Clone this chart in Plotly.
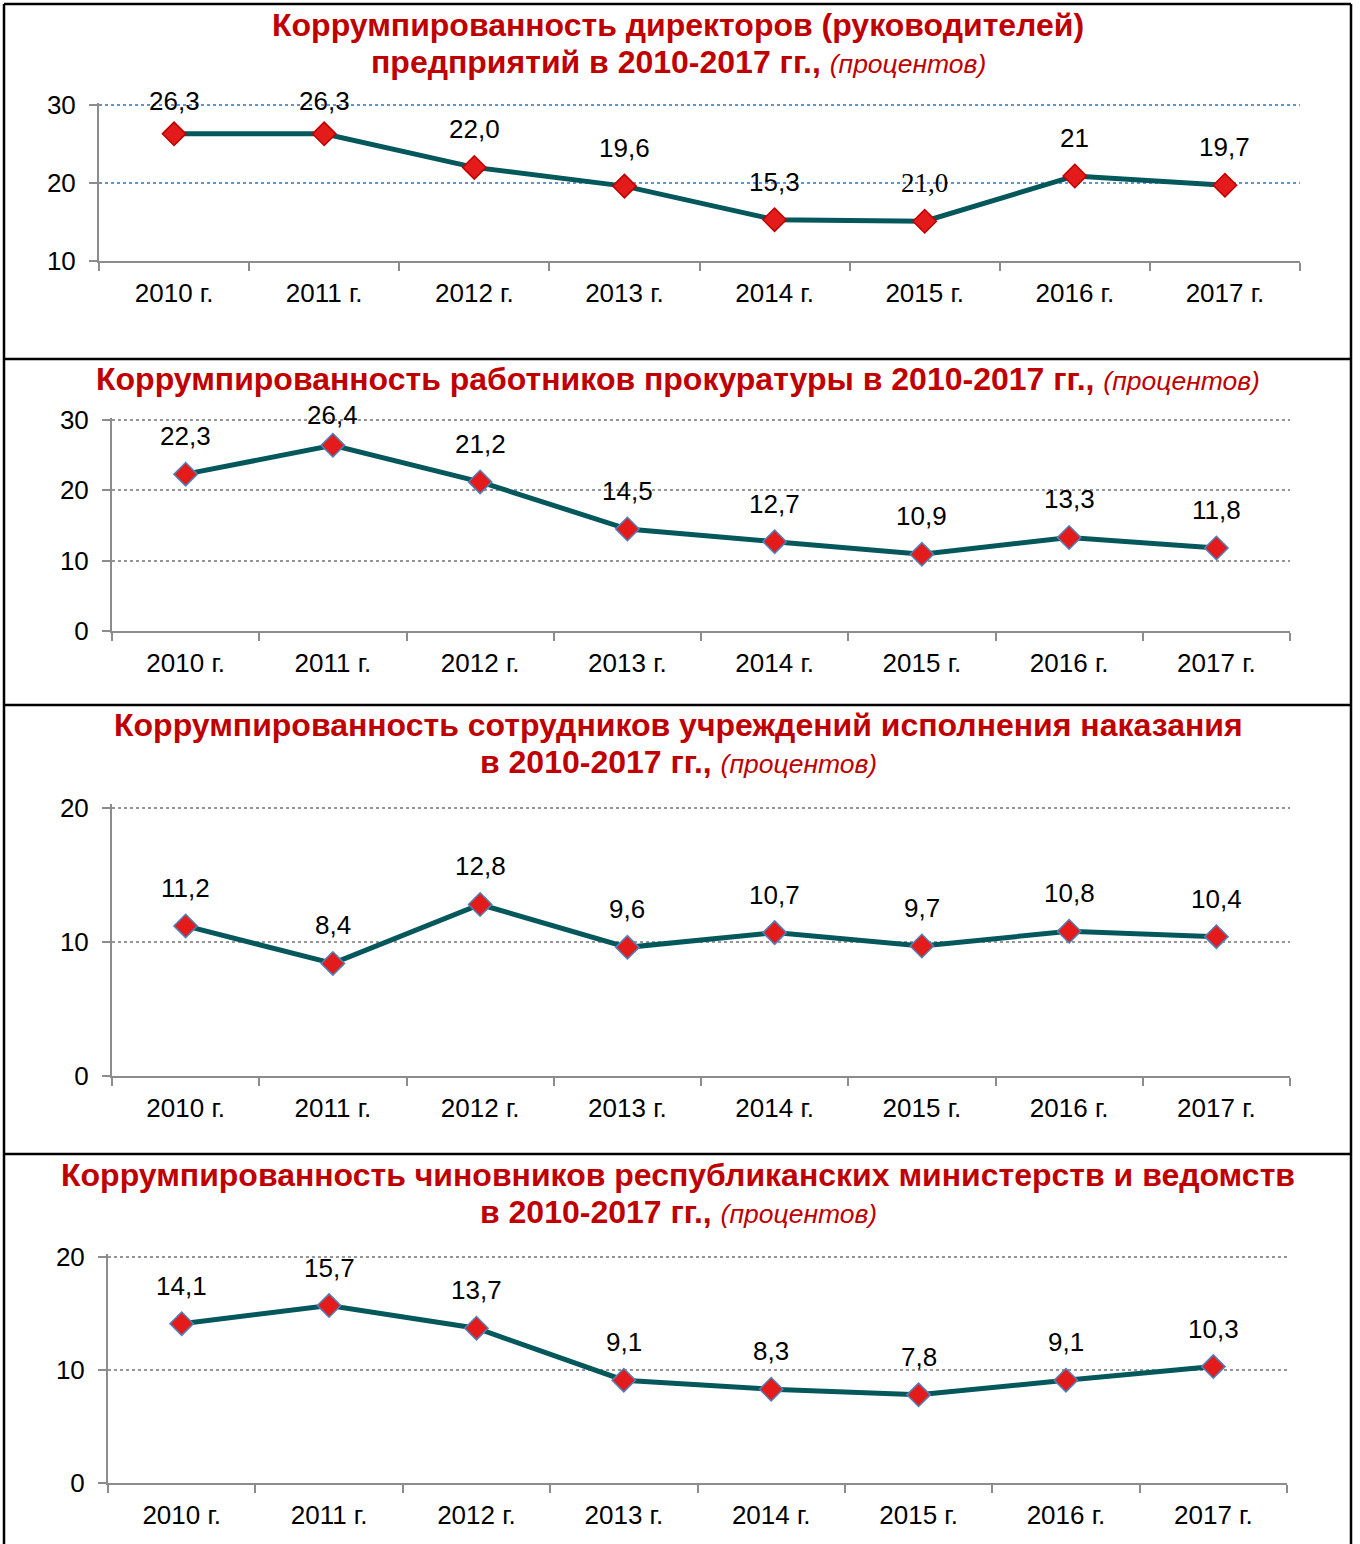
import plotly.graph_objects as go

W, H = 1360, 1544

years = ["2010 г.", "2011 г.", "2012 г.", "2013 г.", "2014 г.", "2015 г.", "2016 г.", "2017 г."]

directors = [26.3, 26.3, 22.0, 19.6, 15.3, 15.1, 20.9, 19.7]
directors_labels = ["26,3", "26,3", "22,0", "19,6", "15,3", "21,0", "21", "19,7"]

prosecutors = [22.3, 26.4, 21.2, 14.5, 12.7, 10.9, 13.3, 11.8]
prosecutors_labels = ["22,3", "26,4", "21,2", "14,5", "12,7", "10,9", "13,3", "11,8"]

penal = [11.2, 8.4, 12.8, 9.6, 10.7, 9.7, 10.8, 10.4]
penal_labels = ["11,2", "8,4", "12,8", "9,6", "10,7", "9,7", "10,8", "10,4"]

officials = [14.1, 15.7, 13.7, 9.1, 8.3, 7.8, 9.1, 10.3]
officials_labels = ["14,1", "15,7", "13,7", "9,1", "8,3", "7,8", "9,1", "10,3"]

titles = [
    ["Коррумпированность директоров (руководителей)", "предприятий в 2010-2017 гг.,"],
    ["Коррумпированность работников прокуратуры в 2010-2017 гг.,"],
    ["Коррумпированность сотрудников учреждений исполнения наказания", "в 2010-2017 гг.,"],
    ["Коррумпированность чиновников республиканских министерств и ведомств", "в 2010-2017 гг.,"],
]
subtitle = "(процентов)"

# layout (pixel geometry)
panels = [
    dict(vals=directors, labels=directors_labels, x0=99, x1=1300, yb=261, yt=105, yr=[10, 30],
         grid="#5f93d8", mline="#c00000", tys=[25, 62]),
    dict(vals=prosecutors, labels=prosecutors_labels, x0=112, x1=1290, yb=631, yt=420, yr=[0, 30],
         grid="#959595", mline="#4f81bd", tys=[379]),
    dict(vals=penal, labels=penal_labels, x0=112, x1=1290, yb=1076, yt=808, yr=[0, 20],
         grid="#959595", mline="#4f81bd", tys=[725, 762]),
    dict(vals=officials, labels=officials_labels, x0=108, x1=1287, yb=1483, yt=1257, yr=[0, 20],
         grid="#959595", mline="#4f81bd", tys=[1175, 1212]),
]
label_shift_default = 38
label_shift_override = {(0, 0): 33, (0, 1): 33, (1, 1): 30}

LINE = "#04585b"
RED = "#e31b1b"
TITLE_RED = "#c00000"
AXIS = "#8c8c8c"
FONT = "Liberation Sans, Arial, sans-serif"
TICK_SIZE = 26
LABEL_SIZE = 26
TITLE_SIZE = 32
SUB_SIZE = 26.5
EXT = 0.3  # small range extension (units) so the top grid line is drawn

fig = go.Figure()
annotations = []
shapes = []

for i, p in enumerate(panels):
    n = i + 1
    xa = "x" if n == 1 else f"x{n}"
    ya = "y" if n == 1 else f"y{n}"
    fig.add_trace(go.Scatter(
        x=years, y=p["vals"], xaxis=xa, yaxis=ya, mode="lines+markers",
        line=dict(color=LINE, width=5),
        marker=dict(symbol="diamond", size=18, color=RED, line=dict(color=p["mline"], width=1.5)),
        showlegend=False, hoverinfo="skip", cliponaxis=False,
    ))
    xk = "xaxis" if n == 1 else f"xaxis{n}"
    yk = "yaxis" if n == 1 else f"yaxis{n}"
    ppu = (p["yb"] - p["yt"]) / (p["yr"][1] - p["yr"][0])
    top_px = p["yt"] - EXT * ppu
    fig.layout[xk] = dict(
        domain=[p["x0"] / W, p["x1"] / W], anchor=ya, type="category",
        range=[-0.5, len(years) - 0.5], showline=True, linecolor=AXIS, linewidth=2,
        ticks="outside", tickson="boundaries", ticklen=8, tickcolor=AXIS, tickwidth=2,
        showgrid=False, tickfont=dict(family=FONT, size=TICK_SIZE, color="#000"),
        ticklabelstandoff=8, fixedrange=True,
    )
    fig.layout[yk] = dict(
        domain=[1 - p["yb"] / H, 1 - top_px / H], anchor=xa,
        range=[p["yr"][0], p["yr"][1] + EXT], tickvals=list(range(p["yr"][0], p["yr"][1] + 1, 10)),
        showline=True, linecolor=AXIS, linewidth=2, ticks="outside", ticklen=8,
        tickcolor=AXIS, tickwidth=2, showgrid=True, gridcolor=p["grid"], griddash="dot",
        gridwidth=1.5, zeroline=False, tickfont=dict(family=FONT, size=TICK_SIZE, color="#000"),
        ticklabelstandoff=8, fixedrange=True,
    )
    for j, (yv, lab) in enumerate(zip(p["vals"], p["labels"])):
        serif = (i == 0 and j == 5)
        annotations.append(dict(
            x=years[j], y=yv, xref=xa, yref=ya, text=lab, showarrow=False,
            yshift=label_shift_override.get((i, j), label_shift_default),
            font=dict(family="Liberation Serif, Times New Roman, serif" if serif else FONT,
                      size=27 if serif else LABEL_SIZE, color="#000"),
        ))
    lines = titles[i]
    for k, (txt, ty) in enumerate(zip(lines, p["tys"])):
        t = f"<b>{txt}</b>"
        if k == len(lines) - 1:
            t += f" <i><span style='font-size:{SUB_SIZE}px'>{subtitle}</span></i>"
        annotations.append(dict(
            x=678 / W, y=1 - ty / H, xref="paper", yref="paper", text=t, showarrow=False,
            xanchor="center", yanchor="middle",
            font=dict(family=FONT, size=TITLE_SIZE, color=TITLE_RED),
        ))

# frame borders
BX0, BX1, BY0 = 4, 1351, 4
bw = 2.5
shapes.append(dict(type="line", xref="paper", yref="paper", x0=BX0 / W, x1=BX0 / W, y0=1 - BY0 / H, y1=-0.01,
                   line=dict(color="#000", width=bw)))
shapes.append(dict(type="line", xref="paper", yref="paper", x0=BX1 / W, x1=BX1 / W, y0=1 - BY0 / H, y1=-0.01,
                   line=dict(color="#000", width=bw)))
for yy in [BY0, 359, 705, 1154]:
    shapes.append(dict(type="line", xref="paper", yref="paper", x0=BX0 / W, x1=BX1 / W,
                       y0=1 - yy / H, y1=1 - yy / H, line=dict(color="#000", width=bw)))

fig.update_layout(
    width=W, height=H, margin=dict(l=0, r=0, t=0, b=0, autoexpand=False),
    paper_bgcolor="white", plot_bgcolor="white",
    annotations=annotations, shapes=shapes, showlegend=False,
    font=dict(family=FONT),
)

fig.write_html("out.html", config={"displayModeBar": False},
               post_script="document.body.style.margin='0';")
